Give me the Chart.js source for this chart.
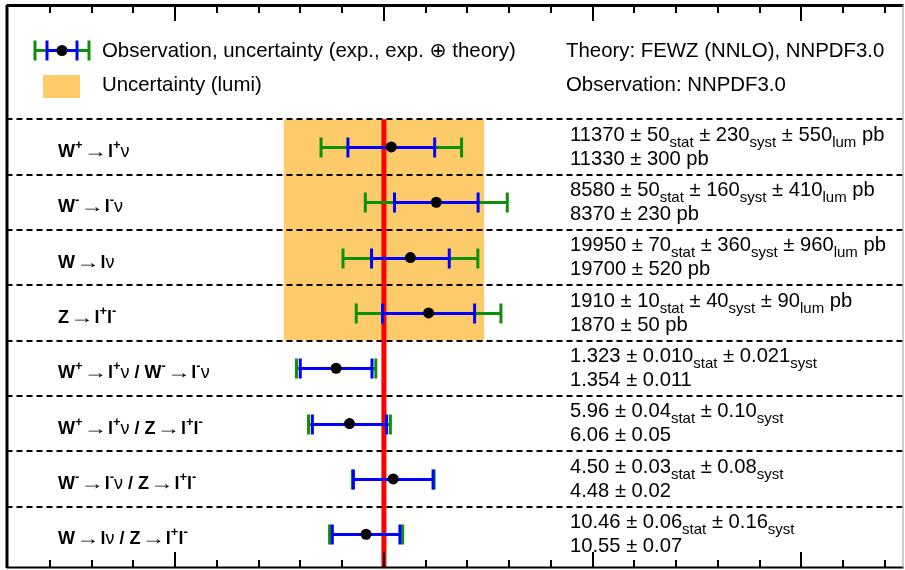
<!DOCTYPE html>
<html>
<head>
<meta charset="utf-8">
<script src="https://cdn.jsdelivr.net/npm/chart.js@4.4.0/dist/chart.umd.min.js"></script>
<style>
  html, body { margin: 0; padding: 0; background: #fff; }
</style>
</head>
<body>
<canvas id="chart" width="905" height="570"></canvas>
<script>
// process labels, ROOT-like markup: ^{..} is a superscript
const rowLabels = [
  'W^{+}→l^{+}ν',
  'W^{-}→l^{-}ν',
  'W→lν',
  'Z→l^{+}l^{-}',
  'W^{+}→l^{+}ν / W^{-}→l^{-}ν',
  'W^{+}→l^{+}ν / Z→l^{+}l^{-}',
  'W^{-}→l^{-}ν / Z→l^{+}l^{-}',
  'W→lν / Z→l^{+}l^{-}'
];
// measured values (kept as strings so the printed precision is preserved)
const measured  = ['11370', '8580', '19950', '1910', '1.323', '5.96', '4.50', '10.46'];
const statErr   = ['50', '50', '70', '10', '0.010', '0.04', '0.03', '0.06'];
const systErr   = ['230', '160', '360', '40', '0.021', '0.10', '0.08', '0.16'];
const lumiErr   = ['550', '410', '960', '90', null, null, null, null];
// theory predictions
const predicted    = ['11330', '8370', '19700', '1870', '1.354', '6.06', '4.48', '10.55'];
const predictedErr = ['300', '230', '520', '50', '0.011', '0.05', '0.02', '0.07'];
const units = ['pb', 'pb', 'pb', 'pb', '', '', '', ''];
// relative luminosity uncertainty (band around 1)
const lumiBand = 0.048;

const FONT = "'Liberation Sans', Arial, 'DejaVu Sans', sans-serif";
const GREEN = '#0c900c';
const BLUE = '#0000ff';
const ORANGE = '#fecb6a';

const nRows = rowLabels.length;
const rowCenter = i => nRows - 0.5 - i;

function ratio(i) { return Number(measured[i]) / Number(predicted[i]); }
function expErr(i) {
  return Math.hypot(Number(statErr[i]), Number(systErr[i])) / Number(predicted[i]);
}
function totErr(i) {
  return Math.hypot(Number(statErr[i]), Number(systErr[i]), Number(predictedErr[i])) / Number(predicted[i]);
}

function setFont(ctx, size, bold) {
  ctx.font = (bold ? 'bold ' : '') + size + 'px ' + FONT;
}

// draw a list of text runs left to right; sx stretches a run horizontally
function drawRuns(ctx, x, y, runs) {
  runs.forEach(r => {
    setFont(ctx, r.size, r.bold);
    const sx = r.sx || 1;
    const pad = r.pad || 0;
    x += pad;
    ctx.save();
    ctx.translate(x, y + (r.dy || 0));
    ctx.scale(sx, 1);
    ctx.fillText(r.text, 0, 0);
    ctx.restore();
    x += ctx.measureText(r.text).width * sx + pad;
  });
  return x;
}

// split a label into runs: latin letters bold, arrow and nu regular
function labelRuns(src) {
  const runs = [];
  const re = /\^\{([^}]*)\}|([^^]+)/g;
  let m;
  while ((m = re.exec(src))) {
    if (m[1] !== undefined) {
      runs.push({ text: m[1], size: 13, bold: true, dy: -8 });
    } else {
      m[2].split(/([→ν])/).filter(s => s).forEach(s => {
        if (s === '→') runs.push({ text: s, size: 18, sx: 1.3, pad: 1 });
        else runs.push({ text: s, size: 18, bold: s !== 'ν' });
      });
    }
  }
  return runs;
}

function valueRuns(i) {
  const big = 20.2, small = 15, sub = 6;
  const runs = [
    { text: measured[i] + ' ± ' + statErr[i], size: big },
    { text: 'stat', size: small, dy: sub },
    { text: ' ± ' + systErr[i], size: big },
    { text: 'syst', size: small, dy: sub }
  ];
  if (lumiErr[i]) {
    runs.push({ text: ' ± ' + lumiErr[i], size: big });
    runs.push({ text: 'lum', size: small, dy: sub });
  }
  if (units[i]) runs.push({ text: ' ' + units[i], size: big });
  return runs;
}

function hLine(ctx, x0, x1, y) {
  ctx.beginPath(); ctx.moveTo(x0, y); ctx.lineTo(x1, y); ctx.stroke();
}
function vLine(ctx, x, y0, y1) {
  ctx.beginPath(); ctx.moveTo(x, y0); ctx.lineTo(x, y1); ctx.stroke();
}

function errorBar(ctx, x0, x1, y, color, cap) {
  ctx.strokeStyle = color;
  ctx.lineWidth = 3;
  hLine(ctx, x0, x1, y);
  vLine(ctx, x0, y - cap, y + cap);
  vLine(ctx, x1, y - cap, y + cap);
}

const rowsPlugin = {
  id: 'rows',
  beforeDatasetsDraw(chart) {
    const { ctx, chartArea: a, scales: { x, y } } = chart;
    ctx.save();
    // luminosity band over the cross-section rows
    const bx0 = x.getPixelForValue(1 - lumiBand);
    const bx1 = x.getPixelForValue(1 + lumiBand);
    const by0 = y.getPixelForValue(nRows);
    const by1 = y.getPixelForValue(nRows - 4);
    ctx.fillStyle = ORANGE;
    ctx.fillRect(bx0, by0, bx1 - bx0, by1 - by0);
    // dashed row separators
    ctx.strokeStyle = '#000';
    ctx.lineWidth = 2;
    ctx.setLineDash([6, 4]);
    for (let k = 1; k <= nRows; k++) {
      const py = Math.round(y.getPixelForValue(k));
      hLine(ctx, a.left, a.right, py);
    }
    ctx.restore();
  },
  afterDatasetDraw(chart, args) {
    // error bars go on top of the reference line, below the dots
    if (args.index !== 1) return;
    const { ctx, scales: { x, y } } = chart;
    ctx.save();
    for (let i = 0; i < nRows; i++) {
      const r = ratio(i), py = Math.round(y.getPixelForValue(rowCenter(i))) + 0.5;
      errorBar(ctx, x.getPixelForValue(r - totErr(i)), x.getPixelForValue(r + totErr(i)), py, GREEN, 10);
      errorBar(ctx, x.getPixelForValue(r - expErr(i)), x.getPixelForValue(r + expErr(i)), py, BLUE, 10);
    }
    ctx.restore();
  },
  afterDraw(chart) {
    const { ctx, chartArea: a, scales: { x, y } } = chart;
    ctx.save();

    // frame
    ctx.strokeStyle = '#000';
    ctx.lineWidth = 3;
    vLine(ctx, a.left + 0.5, a.top, a.bottom);
    hLine(ctx, a.left, a.right, a.top + 0.5);
    ctx.lineWidth = 2;
    hLine(ctx, a.left, a.right, a.bottom - 0.5);
    ctx.strokeStyle = '#9a9a9a';
    ctx.lineWidth = 1;
    vLine(ctx, a.right - 0.5, a.top, a.bottom);

    // inward ticks on top and bottom, major every 0.1
    ctx.strokeStyle = '#000';
    ctx.lineWidth = 2;
    for (let k = 42; k <= 62; k++) {
      const v = k / 50;
      const px = Math.round(x.getPixelForValue(v));
      const len = k % 5 === 0 ? 16 : 8;
      vLine(ctx, px, a.top, a.top + len);
      vLine(ctx, px, a.bottom, a.bottom - len);
    }

    // header legend
    ctx.fillStyle = '#000';
    errorBar(ctx, 35, 89, 50.5, GREEN, 10);
    errorBar(ctx, 47, 77, 50.5, BLUE, 10);
    ctx.beginPath(); ctx.arc(62, 50.5, 5.5, 0, Math.PI * 2); ctx.fill();
    ctx.fillStyle = ORANGE;
    ctx.fillRect(43, 75, 37, 23);
    ctx.fillStyle = '#000';
    setFont(ctx, 20.4, false);
    ctx.fillText('Observation, uncertainty (exp., exp. ⊕ theory)', 102, 57);
    ctx.fillText('Uncertainty (lumi)', 102, 91);
    ctx.fillText('Theory: FEWZ (NNLO), NNPDF3.0', 566, 57);
    ctx.fillText('Observation: NNPDF3.0', 566, 91);

    // row labels and values
    for (let i = 0; i < nRows; i++) {
      const top = y.getPixelForValue(nRows - i);
      const mid = y.getPixelForValue(rowCenter(i));
      drawRuns(ctx, 58, mid + 10, labelRuns(rowLabels[i]));
      drawRuns(ctx, 570, top + 21.5, valueRuns(i));
      const line2 = predicted[i] + ' ± ' + predictedErr[i] + (units[i] ? ' ' + units[i] : '');
      drawRuns(ctx, 570, top + 45.5, [{ text: line2, size: 20.2 }]);
    }
    ctx.restore();
  }
};

new Chart(document.getElementById('chart'), {
  type: 'scatter',
  data: {
    datasets: [
      {
        label: 'Observation / theory',
        data: measured.map((_, i) => ({ x: ratio(i), y: rowCenter(i) })),
        pointRadius: 5.5,
        pointBackgroundColor: '#000',
        pointBorderWidth: 0
      },
      {
        label: 'Theory',
        data: [{ x: 1, y: nRows }, { x: 1, y: -0.11 }],
        showLine: true,
        borderColor: '#ff0000',
        borderWidth: 5,
        pointRadius: 0
      }
    ]
  },
  options: {
    responsive: false,
    animation: false,
    events: [],
    layout: { autoPadding: false, padding: { left: 6.5, right: 1.5, top: 5, bottom: 2 } },
    plugins: { legend: { display: false }, tooltip: { enabled: false } },
    scales: {
      x: { type: 'linear', min: 0.8192, max: 1.2489, display: false },
      y: { type: 'linear', min: -0.11, max: 10.065, display: false }
    }
  },
  plugins: [rowsPlugin]
});
</script>
</body>
</html>
